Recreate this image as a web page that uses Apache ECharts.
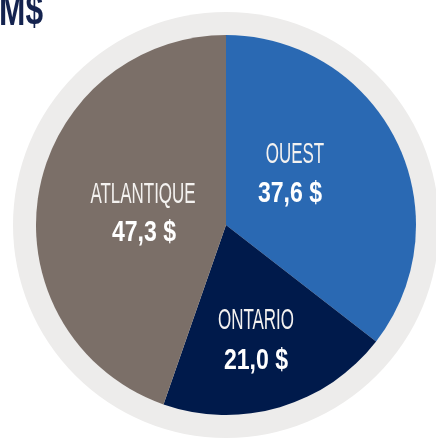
<!DOCTYPE html>
<html>
<head>
<meta charset="utf-8">
<script src="https://cdn.jsdelivr.net/npm/echarts@6/dist/echarts.min.js"></script>
<style>
  html, body { margin: 0; padding: 0; background: #ffffff; }
  #chart { width: 436px; height: 440px; }
</style>
</head>
<body>
<div id="chart"></div>
<script>
// Regional amounts (M$)
const regions = ['OUEST', 'ONTARIO', 'ATLANTIQUE'];
const amounts = [37.6, 21.0, 47.3];
const unitTitle = 'M$';

// Styling
const sliceColors = ['#2A69B3', '#001A4B', '#7B6F68'];
const ringColor = '#EDECEB';
const pieCenter = [226, 225];
const pieRadius = 190;
const ringRadius = 213;

// Where each region's caption sits (name line, amount line)
const captionSpots = [
  { name: [295, 155], value: [290, 194] },
  { name: [256, 321], value: [256, 361] },
  { name: [143, 195], value: [144, 233] }
];

const fmt = v => v.toFixed(1).replace('.', ',') + ' $';

const chart = echarts.init(document.getElementById('chart'), null, { renderer: 'canvas' });

const captions = [];
regions.forEach((r, i) => {
  const spot = captionSpots[i];
  captions.push({
    type: 'text', x: spot.name[0], y: spot.name[1], scaleX: 0.565, z: 10,
    style: {
      text: r, fill: '#F4F2F0', align: 'center', verticalAlign: 'middle',
      font: 'normal 30px "Liberation Sans", Arial, sans-serif'
    }
  });
  captions.push({
    type: 'text', x: spot.value[0], y: spot.value[1], scaleX: 0.77, z: 10,
    style: {
      text: fmt(amounts[i]), fill: '#FFFFFF', align: 'center', verticalAlign: 'middle',
      font: 'bold 30px "Liberation Sans", Arial, sans-serif'
    }
  });
});

captions.push({
  type: 'text', x: -1, y: 35, scaleX: 0.72, z: 10,
  style: {
    text: unitTitle, fill: '#14234F', align: 'left', verticalAlign: 'bottom',
    font: 'bold 44px "Liberation Sans", Arial, sans-serif'
  }
});

chart.setOption({
  animation: false,
  backgroundColor: '#ffffff',
  graphic: captions,
  series: [
    {
      type: 'pie',
      silent: true,
      center: pieCenter,
      radius: [0, ringRadius],
      label: { show: false },
      labelLine: { show: false },
      itemStyle: { color: ringColor },
      data: [{ value: 1, name: 'ring' }],
      z: 1
    },
    {
      type: 'pie',
      silent: true,
      center: pieCenter,
      radius: [0, pieRadius],
      startAngle: 90,
      clockwise: true,
      label: { show: false },
      labelLine: { show: false },
      itemStyle: { borderWidth: 0 },
      data: regions.map((r, i) => ({
        name: r, value: amounts[i], itemStyle: { color: sliceColors[i] }
      })),
      z: 2
    }
  ]
});
</script>
</body>
</html>
